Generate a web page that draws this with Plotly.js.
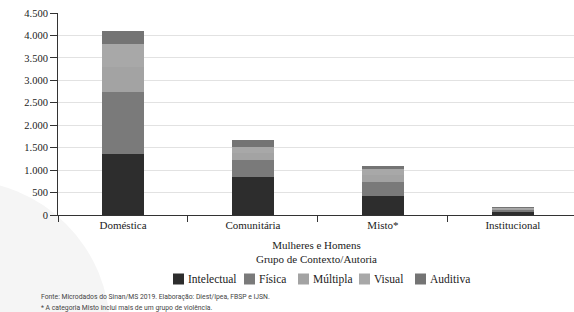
<!DOCTYPE html>
<html><head><meta charset="utf-8">
<script src="https://cdn.plot.ly/plotly-3.0.1.min.js"></script>
<style>html,body{margin:0;padding:0;background:#fff;}#chart{width:574px;height:312px;}</style>
</head><body><div id="chart"></div>
<script>
const categories = ["Doméstica", "Comunitária", "Misto*", "Institucional"];
const seriesNames = ["Intelectual", "Física", "Múltipla", "Visual", "Auditiva"];
const intelectual = [1370, 845, 425, 75];
const fisica = [1370, 380, 320, 40];
const multipla = [560, 150, 145, 25];
const visual = [500, 135, 130, 22];
const auditiva = [290, 160, 72, 18];
const yTicks = [0, 500, 1000, 1500, 2000, 2500, 3000, 3500, 4000, 4500];
const colors = ["#2d2d2d", "#7a7a7a", "#a3a3a3", "#a8a8a8", "#747474"];
const values = [intelectual, fisica, multipla, visual, auditiva];

const traces = seriesNames.map((n, i) => ({
  type: "bar", name: n, x: categories, y: values[i],
  width: 0.325, marker: {color: colors[i], line: {width: 0}},
  hoverinfo: "skip", showlegend: false
}));

const serif = "'Liberation Serif', 'Times New Roman', serif";
const sans = "Roboto, 'Liberation Sans', sans-serif";

// plot area in pixels: left 58, width 516, bottom 215, height 202
const px2x = p => (p - 58) / 516;
const py2y = p => (215 - p) / 202;
const legX = [173, 244, 298, 359, 415];

const shapes = [
  // faint decorative swoosh in the lower left of the page
  {type: "circle", xref: "paper", yref: "paper", layer: "below",
   x0: px2x(-190), x1: px2x(110), y0: py2y(480), y1: py2y(180),
   fillcolor: "#f5f5f5", line: {width: 0}}
];
const annotations = [
  {text: "Mulheres e Homens<br>Grupo de Contexto/Autoria", xref: "paper", yref: "paper",
   x: 0.5, y: py2y(237), xanchor: "center", yanchor: "top", showarrow: false,
   font: {family: serif, size: 11, color: "#222"}},
  {text: "Fonte: Microdados do Sinan/MS 2019. Elaboração: Diest/Ipea, FBSP e IJSN.", xref: "paper", yref: "paper",
   x: px2x(39), y: py2y(291), xanchor: "left", yanchor: "top", showarrow: false,
   font: {family: sans, size: 6.8, color: "#444"}},
  {text: "* A categoria Misto inclui mais de um grupo de violência.", xref: "paper", yref: "paper",
   x: px2x(39), y: py2y(302), xanchor: "left", yanchor: "top", showarrow: false,
   font: {family: sans, size: 6.8, color: "#444"}}
];
seriesNames.forEach((n, i) => {
  shapes.push({type: "rect", xref: "paper", yref: "paper", layer: "above",
    x0: px2x(legX[i]), x1: px2x(legX[i] + 11), y0: py2y(284.5), y1: py2y(273.5),
    fillcolor: colors[i], line: {width: 0}});
  annotations.push({text: n, xref: "paper", yref: "paper", showarrow: false,
    x: px2x(legX[i] + 13), y: py2y(279), xanchor: "left", yanchor: "middle",
    font: {family: serif, size: 11.5, color: "#222"}});
});

const layout = {
  width: 574, height: 312,
  margin: {l: 58, r: 0, t: 13, b: 97},
  paper_bgcolor: "#fff", plot_bgcolor: "rgba(0,0,0,0)",
  separators: ",.",
  barmode: "stack",
  showlegend: false,
  font: {family: serif, color: "#222", size: 11},
  xaxis: {
    type: "category", range: [-0.5, 3.47],
    showline: true, linecolor: "#333", linewidth: 1,
    ticks: "outside", tickson: "boundaries", ticklen: 6, tickcolor: "#333",
    showgrid: false, tickfont: {family: serif, size: 11, color: "#222"},
    fixedrange: true
  },
  yaxis: {
    range: [0, 4500], tickvals: yTicks, tickformat: ",d",
    showline: true, linecolor: "#333", linewidth: 1,
    ticks: "outside", ticklen: 7, tickcolor: "#333",
    showgrid: true, gridcolor: "#e2e2e2", gridwidth: 1,
    zeroline: false, tickfont: {family: serif, size: 10.5, color: "#222"},
    fixedrange: true
  },
  shapes: shapes,
  annotations: annotations
};
Plotly.newPlot("chart", traces, layout, {displayModeBar: false, staticPlot: true});
</script></body></html>
